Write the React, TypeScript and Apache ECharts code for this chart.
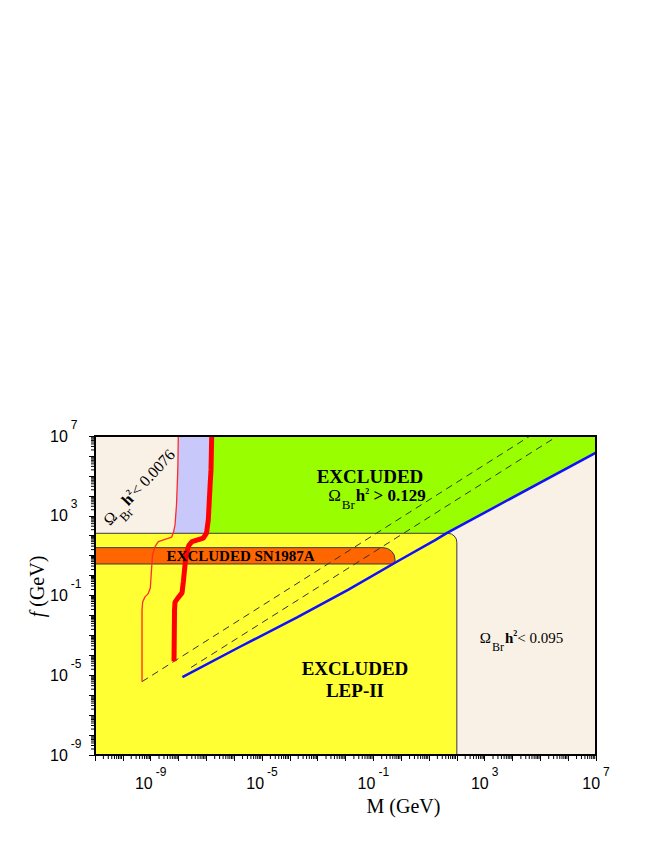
import React, { useEffect, useRef } from "react";
import * as echarts from "echarts";

// ---------- axes (values are log10 of M and f, both in GeV) ----------
const logMRange = [-11, 7];
const logFRange = [-9, 7];
const labeledExponents = [-9, -5, -1, 3, 7];
const xAxisName = "M (GeV)";
const yAxisName = "{i|f} (GeV)";

// ---------- boundary curves: [log10 M, log10 f] ----------
const thinRedLine = [
  [-8.007, 7], [-8.025, 5.3], [-8.072, 3.54], [-8.125, 2.54], [-8.187, 2.13], [-8.244, 1.93],
  [-8.725, 1.7], [-8.844, 1.45], [-8.934, 1.03], [-8.97, 0.28], [-9.013, -0.62], [-9.096, -0.92],
  [-9.203, -1.07], [-9.286, -1.31], [-9.311, -1.73], [-9.311, -5.32],
];
const thickRedLine = [
  [-6.807, 7], [-6.832, 5.3], [-6.868, 4.44], [-6.929, 2.79], [-6.994, 2.13], [-7.109, 1.88],
  [-7.515, 1.7], [-7.622, 1.53], [-7.712, 1.13], [-7.766, 0.53], [-7.827, -0.32], [-7.874, -0.87],
  [-8.018, -1.12], [-8.125, -1.33], [-8.143, -1.73], [-8.161, -4.3],
];
const blueLine = [
  [-7.86, -5.09], [-5.79, -3.57], [-3.74, -2.1], [-1.91, -0.72], [-0.11, 0.73], [1.22, 1.78],
  [1.65, 2.14], [7, 6.17],
];
const upperDashed = [[-9.311, -5.32], [4.63, 7]];
const lowerDashed = [[-7.55, -4.61], [5.62, 7]];

// ---------- excluded boxes ----------
const lepBoxM = [-11, 2];
const lepBoxF = [-9, 2.12];
const snBandM = [-11, -0.22];
const snBandF = [0.58, 1.4];

// ---------- texts ----------
const excludedText = "EXCLUDED";
const snText = "EXCLUDED SN1987A";
const lepText = "LEP-II";
const omegaSymbol = "Ω";
const omegaSub = "Br";
const relicMin = "< 0.0076";
const relicHigh = "> 0.129";
const relicLow = "< 0.095";

const SERIF = "'Liberation Serif', 'Times New Roman', serif";
const SANS = "'Liberation Sans', Arial, sans-serif";

const COLORS = {
  beige: "#f9f0e6",
  lavender: "#c8c8fa",
  green: "#99ff00",
  yellow: "#ffff33",
  orange: "#ff6600",
  red: "#ff0000",
  blue: "#1010ff",
  edge: "#3a3a3a",
};

function relicRich(size: number, subSize: number, supSize: number, subPad: number, supPad: number, bold: boolean) {
  const lh = size;
  return {
    o: { fontSize: size, fontFamily: SERIF, fontWeight: "normal", lineHeight: lh, fill: "#000" },
    s: { fontSize: subSize, fontFamily: SERIF, fontWeight: "normal", lineHeight: lh, padding: [subPad, 0, 0, 1], fill: "#000" },
    h: { fontSize: size, fontFamily: SERIF, fontWeight: "bold", lineHeight: lh, padding: [0, 0, 0, 1], fill: "#000" },
    p: { fontSize: supSize, fontFamily: SERIF, fontWeight: "bold", lineHeight: lh, padding: [0, 0, supPad, 0], fill: "#000" },
    t: { fontSize: size, fontFamily: SERIF, fontWeight: bold ? "bold" : "normal", lineHeight: lh, fill: "#000" },
  };
}
const relicString = (rest: string) => `{o|${omegaSymbol}}{s|${omegaSub}}{h|h}{p|2}{t|${rest}}`;

type Ann = { text: string; at: number[]; size: number; bold?: boolean; rich?: any; rot?: number };
const annotations: Ann[] = [
  { text: excludedText, at: [-1.12, 4.95], size: 19, bold: true },
  { text: relicString(" " + relicHigh), at: [-0.87, 4.02], size: 17, rich: relicRich(17, 13, 8, 18, 7, true) },
  { text: snText, at: [-5.77, 0.96], size: 15, bold: true },
  { text: excludedText, at: [-1.66, -4.65], size: 19, bold: true },
  { text: lepText, at: [-1.66, -5.74], size: 19, bold: true },
  { text: relicString(relicLow), at: [4.325, -3.13], size: 15, rich: relicRich(15, 12, 8, 19, 8, false) },
  { text: relicString(relicMin), at: [-9.42, 4.44], size: 16, rot: 47, rich: relicRich(16, 13, 8, 19, 8, false) },
];

function polygonSeries(points: number[][], fill: string, z: number) {
  return {
    type: "custom",
    z,
    silent: true,
    data: [[0, 0]],
    renderItem: (_p: any, api: any) => ({
      type: "polygon",
      shape: { points: points.map((pt) => api.coord(pt)) },
      style: { fill },
    }),
  };
}

function boxSeries(ms: number[], fs: number[], fill: string, z: number, r: number[]) {
  return {
    type: "custom",
    z,
    silent: true,
    data: [[0, 0]],
    renderItem: (_p: any, api: any) => {
      const tl = api.coord([ms[0], fs[1]]);
      const br = api.coord([ms[1], fs[0]]);
      return {
        type: "rect",
        shape: { x: tl[0], y: tl[1], width: br[0] - tl[0], height: br[1] - tl[1], r },
        style: { fill, stroke: COLORS.edge, lineWidth: 1 },
      };
    },
  };
}

function lineSeries(data: number[][], color: string, width: number, z: number, dashed = false) {
  return {
    type: "line",
    z,
    silent: true,
    data,
    symbol: "none",
    showSymbol: false,
    lineStyle: { color, width, type: dashed ? [7, 5] : "solid" },
  };
}

function minorTicks(lo: number, hi: number) {
  const out: number[] = [];
  for (let n = lo; n < hi; n++) for (let k = 2; k <= 9; k++) out.push(n + Math.log10(k));
  return out;
}

function axisLabelFormatter(v: number) {
  const r = Math.round(v);
  if (Math.abs(v - r) > 1e-6 || !labeledExponents.includes(r)) return "";
  return `{b|10}{e|${r}}`;
}
const axisLabelRich = {
  b: { fontSize: 16, fontFamily: SANS, color: "#000", lineHeight: 16 },
  e: { fontSize: 12, fontFamily: SANS, color: "#000", lineHeight: 16, padding: [0, 0, 23, 3] },
};

function buildOption() {
  const greenPoly = [...thickRedLine.slice(0, 6), [1.0, 1.88], [1.65, 2.14], [7, 6.17], [7, 7]];
  const lavenderPoly = [...thinRedLine.slice(0, 6), ...thickRedLine.slice(0, 6).reverse()];
  const beigePoly = [
    [logMRange[0], logFRange[0]], [logMRange[1], logFRange[0]],
    [logMRange[1], logFRange[1]], [logMRange[0], logFRange[1]],
  ];

  return {
    animation: false,
    backgroundColor: "#ffffff",
    grid: {
      left: 95, top: 436, right: 58, bottom: 91, show: true,
      backgroundColor: "transparent", borderColor: "#000", borderWidth: 2, z: 10,
    },
    xAxis: {
      type: "value", min: logMRange[0], max: logMRange[1], interval: 1, z: 10,
      axisLine: { show: true, onZero: false, lineStyle: { color: "#000", width: 2 } },
      axisTick: { show: true, length: 6, lineStyle: { color: "#000", width: 1 } },
      splitLine: { show: false },
      axisLabel: { interval: 0, margin: 20, formatter: axisLabelFormatter, rich: axisLabelRich },
      name: xAxisName, nameLocation: "middle", nameGap: 41, nameMoveOverlap: false,
      nameTextStyle: { fontFamily: SERIF, fontSize: 20, color: "#000", padding: [0, 0, 0, 116] },
    },
    yAxis: {
      type: "value", min: logFRange[0], max: logFRange[1], interval: 1, z: 10,
      axisLine: { show: true, onZero: false, lineStyle: { color: "#000", width: 2 } },
      axisTick: { show: true, length: 6, lineStyle: { color: "#000", width: 1 } },
      splitLine: { show: false },
      axisLabel: { interval: 0, margin: 45, align: "left", formatter: axisLabelFormatter, rich: axisLabelRich },
      name: yAxisName, nameLocation: "middle", nameGap: 48, nameRotate: 90, nameMoveOverlap: false,
      nameTextStyle: {
        fontFamily: SERIF, fontSize: 20, color: "#000",
        rich: { i: { fontFamily: SERIF, fontSize: 20, fontStyle: "italic", color: "#000", padding: [0, 0, 0, 18] } },
      },
    },
    series: [
      polygonSeries(beigePoly, COLORS.beige, 1),
      polygonSeries(greenPoly, COLORS.green, 2),
      polygonSeries(lavenderPoly, COLORS.lavender, 2),
      boxSeries(lepBoxM, lepBoxF, COLORS.yellow, 3, [0, 9, 0, 0]),
      boxSeries(snBandM, snBandF, COLORS.orange, 3, [0, 12, 3, 0]),
      lineSeries(upperDashed, "#333", 1, 4, true),
      lineSeries(lowerDashed, "#333", 1, 4, true),
      lineSeries(blueLine, COLORS.blue, 2.5, 5),
      lineSeries(thinRedLine, "#ff2a2a", 1.3, 5),
      lineSeries(thickRedLine, COLORS.red, 5, 5),
      {
        type: "custom", z: 6, silent: true,
        data: annotations.map((_, i) => [0, 0, i]),
        renderItem: (params: any, api: any) => {
          const a = annotations[params.dataIndex];
          const c = api.coord(a.at);
          return {
            type: "text",
            x: c[0], y: c[1],
            rotation: ((a.rot || 0) * Math.PI) / 180,
            style: {
              text: a.text,
              fontFamily: SERIF, fontSize: a.size, fontWeight: a.bold ? "bold" : "normal",
              fill: "#000", align: "center", verticalAlign: "middle",
              rich: a.rich,
            },
          };
        },
      },
      {
        type: "custom", z: 10, silent: true, clip: false,
        data: minorTicks(logMRange[0], logMRange[1]).map((v) => [v, logFRange[0]]),
        renderItem: (_p: any, api: any) => {
          const c = api.coord([api.value(0), api.value(1)]);
          return { type: "line", shape: { x1: c[0], y1: c[1] + 1, x2: c[0], y2: c[1] + 4 }, style: { stroke: "#000", lineWidth: 1 } };
        },
      },
      {
        type: "custom", z: 10, silent: true, clip: false,
        data: minorTicks(logFRange[0], logFRange[1]).map((v) => [logMRange[0], v]),
        renderItem: (_p: any, api: any) => {
          const c = api.coord([api.value(0), api.value(1)]);
          return { type: "line", shape: { x1: c[0] - 1, y1: c[1], x2: c[0] - 4, y2: c[1] }, style: { stroke: "#000", lineWidth: 1 } };
        },
      },
    ],
  };
}

export default function App() {
  const ref = useRef<HTMLDivElement>(null);
  useEffect(() => {
    if (!ref.current) return;
    const chart = echarts.init(ref.current, null, { renderer: "svg" });
    chart.setOption(buildOption() as any);
    return () => chart.dispose();
  }, []);
  return (
    <div
      ref={ref}
      style={{ position: "fixed", left: 0, top: 0, width: 654, height: 846, background: "#fff" }}
    />
  );
}
